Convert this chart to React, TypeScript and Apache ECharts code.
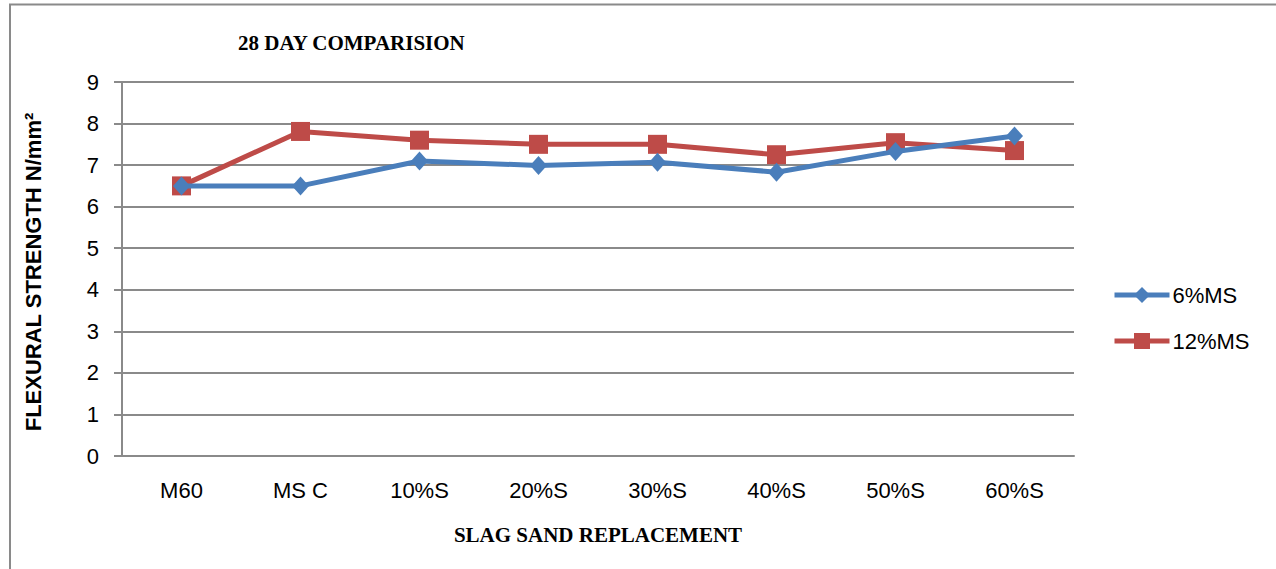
import React, { useEffect, useRef } from "react";
import * as echarts from "echarts";

const categories = ["M60", "MS C", "10%S", "20%S", "30%S", "40%S", "50%S", "60%S"];
const series6MS = [6.5, 6.5, 7.1, 6.99, 7.07, 6.83, 7.33, 7.7];
const series12MS = [6.5, 7.81, 7.6, 7.5, 7.5, 7.25, 7.54, 7.35];
const yTicks = { min: 0, max: 9, interval: 1 };

const sans = "'Liberation Sans', Arial, sans-serif";
const serif = "'Liberation Serif', 'Times New Roman', serif";

export default function App() {
  const ref = useRef<HTMLDivElement>(null);
  useEffect(() => {
    if (!ref.current) return;
    const chart = echarts.init(ref.current, undefined, { renderer: "svg" });
    chart.setOption({
      animation: false,
      backgroundColor: "#ffffff",
      title: {
        text: "28 DAY COMPARISION",
        left: 233,
        top: 27,
        textStyle: { fontFamily: serif, fontWeight: "bold", fontSize: 21, color: "#000" },
      },
      graphic: [
        {
          type: "rect",
          shape: { x: 10, y: 4.5, width: 1300, height: 600 },
          style: { fill: "none", stroke: "#8a8a8a", lineWidth: 2 },
          silent: true,
        },
        {
          type: "text",
          x: 33,
          y: 272,
          rotation: Math.PI / 2,
          style: {
            text: "FLEXURAL STRENGTH N/mm²",
            fontFamily: sans,
            fontWeight: "bold",
            fontSize: 22,
            fill: "#000",
            align: "center",
            verticalAlign: "middle",
          },
        },
      ],
      legend: {
        orient: "vertical",
        left: 1107,
        top: 279,
        itemWidth: 55,
        itemHeight: 20,
        itemGap: 24,
        lineStyle: { width: 5 },
        textStyle: { fontFamily: sans, fontSize: 22, color: "#000", padding: [0, 0, 0, -2] },
        data: ["6%MS", "12%MS"],
      },
      grid: { left: 122, right: 202, top: 82, bottom: 113, containLabel: false },
      xAxis: {
        type: "category",
        data: categories,
        boundaryGap: true,
        name: "SLAG SAND REPLACEMENT",
        nameLocation: "middle",
        nameGap: 68,
        nameTextStyle: {
          fontFamily: serif,
          fontWeight: "bold",
          fontSize: 21,
          color: "#000",
          verticalAlign: "top",
        },
        axisLine: { lineStyle: { color: "#8a8a8a", width: 2 } },
        axisTick: { show: false },
        axisLabel: { fontFamily: sans, fontSize: 22, color: "#000", margin: 23 },
      },
      yAxis: {
        type: "value",
        min: yTicks.min,
        max: yTicks.max,
        interval: yTicks.interval,
        axisLine: { show: true, lineStyle: { color: "#8a8a8a", width: 2 } },
        axisTick: { show: true, length: 8, lineStyle: { color: "#8a8a8a", width: 2 } },
        axisLabel: { fontFamily: sans, fontSize: 22, color: "#000", margin: 23 },
        splitLine: { lineStyle: { color: "#8a8a8a", width: 2 } },
      },
      series: [
        {
          name: "6%MS",
          type: "line",
          data: series6MS,
          symbol: "diamond",
          symbolSize: [17, 19],
          itemStyle: { color: "#4a7ebb" },
          lineStyle: { color: "#4a7ebb", width: 5 },
          z: 3,
        },
        {
          name: "12%MS",
          type: "line",
          data: series12MS,
          symbol: "rect",
          symbolSize: 19,
          itemStyle: { color: "#be4b48" },
          lineStyle: { color: "#be4b48", width: 5 },
          z: 2,
        },
      ],
    });
    return () => chart.dispose();
  }, []);
  return (
    <div
      ref={ref}
      style={{ position: "absolute", left: 0, top: 0, width: 1276, height: 569 }}
    />
  );
}
